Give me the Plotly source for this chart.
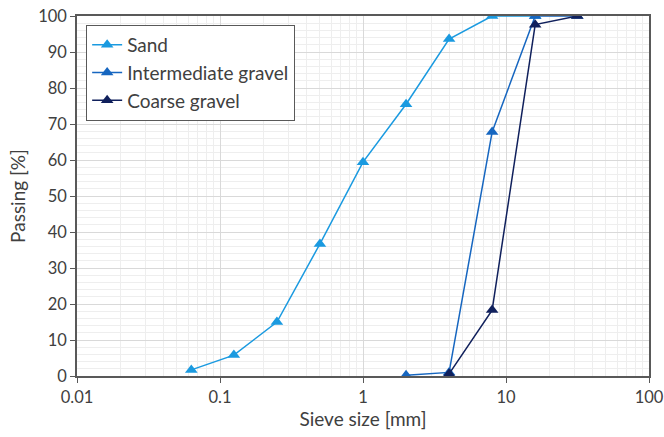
import plotly.graph_objects as go

sand_x = [0.063, 0.125, 0.25, 0.5, 1, 2, 4, 8, 16]
sand_y = [1.7, 5.8, 15.0, 36.7, 59.4, 75.5, 93.6, 100, 100]
inter_x = [2, 4, 8, 16, 31.5]
inter_y = [0.2, 1.0, 67.8, 100, 100]
coarse_x = [4, 8, 16, 31.5]
coarse_y = [0.6, 18.3, 97.6, 100]

FONT = "Lato"
fig = go.Figure()
for name, xs, ys, col in [
    ("Sand", sand_x, sand_y, "#1a9ae0"),
    ("Intermediate gravel", inter_x, inter_y, "#1666c0"),
    ("Coarse gravel", coarse_x, coarse_y, "#10205c"),
]:
    fig.add_trace(go.Scatter(x=xs, y=ys, name=name, mode="lines+markers",
                             line=dict(color=col, width=1.5),
                             marker=dict(symbol="triangle-up", size=11, color=col)))

fig.update_layout(
    width=664, height=437,
    margin=dict(l=77, r=15, t=16, b=61, autoexpand=False),
    paper_bgcolor="white", plot_bgcolor="white",
    font=dict(family=FONT, size=16, color="#404040"),
    legend=dict(x=0.016, y=0.975, xanchor="left", yanchor="top",
                bgcolor="white", bordercolor="#595959", borderwidth=1,
                font=dict(size=19, color="#404040"), tracegroupgap=0, itemwidth=30),
    showlegend=True,
)
fig.update_xaxes(type="log", range=[-2, 2], dtick=1, tickformat="~g",
                 automargin=False, ticklabeloverflow="allow",
                 showgrid=True, gridcolor="#d9d9d9", gridwidth=1,
                 minor=dict(dtick="D1", showgrid=True, gridcolor="#eeeeee", gridwidth=1),
                 showline=True, linecolor="#595959", linewidth=1.5, mirror=True,
                 ticks="outside", ticklen=5, tickcolor="#595959",
                 tickfont=dict(size=16.5),
                 title=dict(text="Sieve size [mm]", font=dict(size=19), standoff=7),
                 zeroline=False)
fig.update_yaxes(range=[0, 100], dtick=10,
                 automargin=False, ticklabeloverflow="allow",
                 showgrid=True, gridcolor="#d9d9d9", gridwidth=1,
                 minor=dict(dtick=2, showgrid=True, gridcolor="#eeeeee", gridwidth=1),
                 showline=True, linecolor="#595959", linewidth=1.5, mirror=True,
                 ticks="outside", ticklen=5, tickcolor="#595959",
                 tickfont=dict(size=16.5),
                 title=dict(text="Passing [%]", font=dict(size=19), standoff=8),
                 zeroline=False)

fig.write_html("out.html", config={"displayModeBar": False},
               post_script="document.body.style.margin='0';document.body.style.overflow='hidden';")
